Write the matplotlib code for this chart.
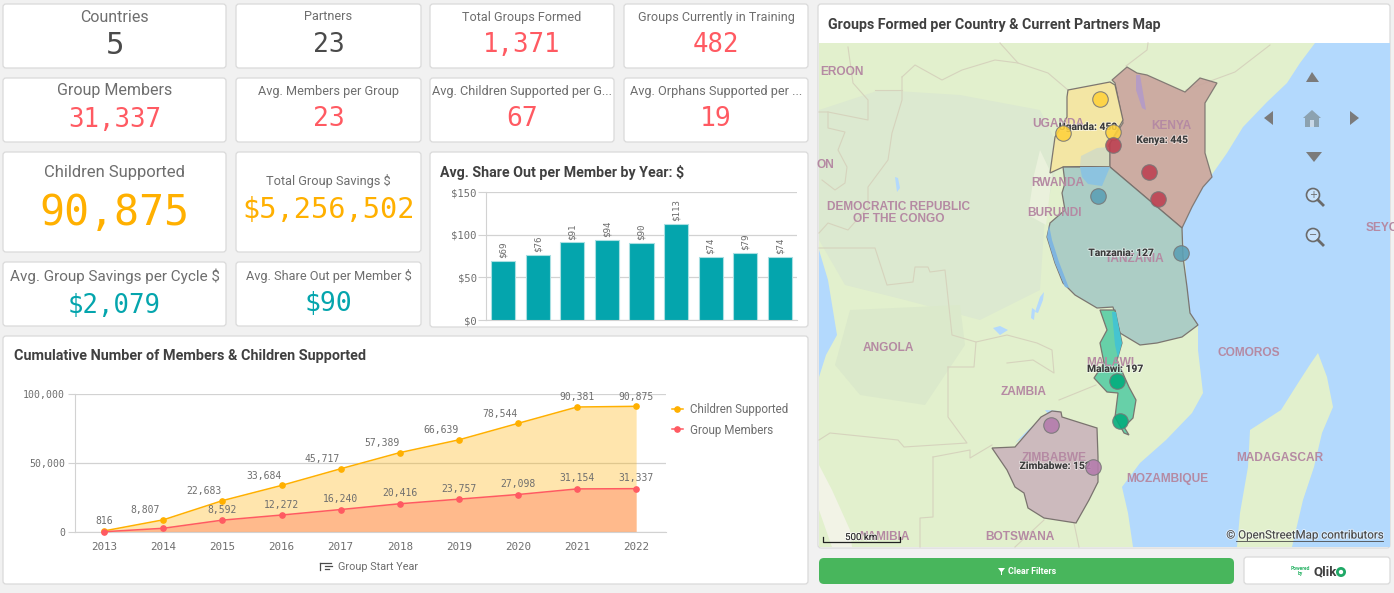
import matplotlib
matplotlib.use("Agg")
import matplotlib.pyplot as plt
import matplotlib.patheffects as pe
from matplotlib.patches import Circle, FancyBboxPatch, Polygon, Rectangle

W, H = 1394, 593
BG = "#f1f1f1"
GRID = "#d2d2d2"
GRAY = "#6e6e6e"
RED = "#ff5a62"
AMBER = "#ffb000"
TEAL = "#04a5ad"
DARK = "#4a4a4a"
SANS = "Roboto"
MONO = "DejaVu Sans Mono"

# KPI cards
kpi_titles = ["Countries", "Partners", "Total Groups Formed", "Groups Currently in Training",
              "Group Members", "Avg. Members per Group", "Avg. Children Supported per G...",
              "Avg. Orphans Supported per ...", "Children Supported", "Total Group Savings $",
              "Avg. Group Savings per Cycle $", "Avg. Share Out per Member $"]
kpi_values = ["5", "23", "1,371", "482", "31,337", "23", "67", "19", "90,875", "$5,256,502",
              "$2,079", "$90"]
kpi_colors = [DARK, DARK, RED, RED, RED, RED, RED, RED, AMBER, AMBER, TEAL, TEAL]

# bar chart
share_out = [69, 76, 91, 94, 90, 113, 74, 79, 74]

# line chart
years = [2013, 2014, 2015, 2016, 2017, 2018, 2019, 2020, 2021, 2022]
children = [816, 8807, 22683, 33684, 45717, 57389, 66639, 78544, 90381, 90875]
members = [200, 2700, 8592, 12272, 16240, 20416, 23757, 27098, 31154, 31337]

# map outlines and groups, in picture pixels
land_outline = [(819, 43), (1315, 43), (1300, 63), (1287, 83), (1267, 102), (1243, 127), (1227, 153),
                (1213, 173), (1203, 187), (1192, 207), (1182, 228), (1185, 260), (1187, 287), (1190, 313),
                (1198, 325), (1198, 350), (1203, 393), (1192, 413), (1166, 440), (1140, 463), (1122, 487),
                (1128, 513), (1133, 547), (819, 547), (819, 377), (826, 355), (837, 335), (828, 280), (819, 250)]
madagascar = [(1318, 353), (1327, 377), (1333, 407), (1322, 433), (1314, 467), (1303, 500), (1292, 547),
              (1237, 547), (1240, 513), (1248, 467), (1250, 430), (1281, 410), (1300, 380), (1311, 363)]
forest = [(819, 110), (880, 90), (960, 95), (1040, 110), (1060, 150), (1045, 215), (1040, 290), (980, 320),
          (905, 300), (845, 285), (819, 240)]
angola_patch = [(850, 310), (960, 305), (965, 345), (925, 405), (860, 395), (835, 365)]
desert = [(819, 465), (832, 490), (850, 530), (852, 547), (832, 547), (819, 510)]
rwanda_pale = [(1040, 150), (1052, 175), (1046, 225), (1028, 215), (1034, 175)]
kenya = [(1112, 80), (1127, 67), (1137, 73), (1147, 75), (1185, 92), (1200, 78), (1217, 83), (1205, 103),
         (1205, 153), (1212, 177), (1203, 187), (1192, 207), (1182, 228), (1110, 167), (1110, 143),
         (1123, 123), (1115, 83)]
uganda = [(1068, 90), (1110, 82), (1115, 85), (1123, 120), (1109, 145), (1109, 166), (1063, 167),
          (1050, 173), (1055, 137), (1067, 117), (1067, 97)]
tanzania = [(1063, 167), (1110, 167), (1182, 228), (1183, 257), (1187, 287), (1190, 313), (1198, 325),
            (1182, 337), (1157, 343), (1140, 345), (1120, 333), (1113, 307), (1097, 308), (1075, 295),
            (1063, 283), (1055, 263), (1047, 237), (1050, 223), (1065, 210), (1062, 193), (1065, 183)]
malawi = [(1100, 310), (1115, 310), (1122, 343), (1117, 360), (1129, 387), (1136, 400), (1133, 418),
          (1124, 427), (1129, 435), (1124, 433), (1115, 417), (1118, 393), (1107, 392), (1094, 378),
          (1104, 363), (1100, 343), (1107, 330)]
zimbabwe = [(1041, 417), (1052, 411), (1061, 412), (1062, 417), (1081, 423), (1097, 428), (1098, 457),
            (1098, 482), (1089, 500), (1076, 523), (1044, 518), (1028, 508), (1024, 493), (1015, 487),
            (1007, 470), (992, 448), (1015, 447), (1028, 432)]
victoria = [(1080, 167), (1110, 167), (1102, 186), (1088, 184), (1082, 177)]
victoria_north = [(1080, 166), (1081, 156), (1097, 148), (1109, 147), (1109, 166)]
tanganyika = [(1049, 225), (1047, 237), (1055, 263), (1065, 287), (1069, 288), (1059, 262), (1052, 240)]
malawi_lake = [(1112, 312), (1116, 312), (1122, 343), (1118, 358), (1115, 345)]
turkana = [(1136, 75), (1140, 75), (1146, 110), (1142, 108), (1136, 90)]
lakes_other = [[(1044, 292), (1040, 297), (1035, 312), (1038, 313), (1043, 300)],
               [(895, 177), (898, 178), (900, 188), (897, 192)],
               [(1015, 443), (1028, 430), (1040, 420), (1028, 434)],
               [(1032, 308), (1035, 310), (1034, 320), (1031, 318)],
               [(993, 328), (1000, 326), (1008, 330), (1000, 335)],
               [(1045, 410), (1060, 411), (1058, 414), (1048, 414)]]
borders = [[(902, 77), (915, 65), (942, 80), (962, 70), (995, 60), (1018, 63), (1048, 73), (1068, 90)],
           [(1000, 43), (1018, 63)],
           [(1126, 66), (1147, 50), (1148, 43)],
           [(1186, 90), (1235, 72), (1270, 45)],
           [(902, 77), (902, 100), (892, 133), (888, 160), (868, 187), (868, 207), (848, 230), (828, 223), (819, 233)],
           [(848, 47), (853, 83), (868, 100), (868, 120), (828, 112), (819, 112)],
           [(875, 90), (902, 90)],
           [(828, 112), (828, 128), (845, 132), (838, 150), (847, 167), (845, 183), (835, 190), (822, 180)],
           [(819, 248), (875, 248), (887, 285), (913, 282), (915, 267), (928, 267), (930, 272), (945, 270),
            (952, 335), (976, 342), (1007, 335), (1037, 343), (1052, 350), (1054, 373), (1033, 360), (1007, 363)],
           [(948, 367), (974, 367), (976, 342)],
           [(948, 367), (948, 417), (967, 443), (904, 447), (898, 440), (830, 433), (819, 440)],
           [(933, 457), (933, 517), (920, 518), (920, 547)],
           [(933, 457), (970, 450), (970, 458), (992, 445)],
           [(1059, 400), (1096, 385)],
           [(1074, 523), (1079, 547)],
           [(1044, 520), (1015, 547)]]

group_x = {"Uganda": [1100, 1063, 1113], "Kenya": [1113, 1149, 1158], "Tanzania": [1098, 1181],
           "Malawi": [1117, 1120], "Zimbabwe": [1051, 1093]}
group_y = {"Uganda": [99, 133, 132], "Kenya": [145, 172, 199], "Tanzania": [196, 253],
           "Malawi": [381, 421], "Zimbabwe": [425, 467]}
group_colors = {"Uganda": "#ffd23c", "Kenya": "#bd3f50", "Tanzania": "#5a9fb5",
                "Malawi": "#00ac7c", "Zimbabwe": "#b47bac"}

place_names = ["EROON", "ON", "DEMOCRATIC REPUBLIC\nOF THE CONGO", "UGANDA", "KENYA", "RWANDA", "BURUNDI",
               "TANZANIA", "SEYCHELLES", "ANGOLA", "ZAMBIA", "MALAWI", "COMOROS", "ZIMBABWE",
               "MOZAMBIQUE", "MADAGASCAR", "NAMIBIA", "BOTSWANA"]
place_x = [842, 825, 899, 1058, 1171, 1058, 1055, 1135, 1405, 888, 1024, 1110, 1249, 1054, 1167, 1280, 885, 1020]
place_y = [72, 165, 213, 124, 126, 183, 213, 259, 228, 348, 392, 363, 353, 458, 479, 458, 537, 537]

count_labels = ["Uganda: 450", "Kenya: 445", "Tanzania: 127", "Malawi: 197", "Zimbabwe: 152"]
count_x = [1088, 1162, 1121, 1115, 1055]
count_y = [127, 140, 253, 369, 466]


def px_axes(fig, left, top, right, bottom):
    return fig.add_axes([left / W, 1 - bottom / H, (right - left) / W, (bottom - top) / H])


def card(ax, left, top, right, bottom):
    ax.add_patch(FancyBboxPatch((left + 2, top + 2), right - left - 4, bottom - top - 4,
                                boxstyle="round,pad=2,rounding_size=3", fc="white", ec="#dadada", lw=0.9, zorder=1))


def draw_kpis(ax):
    boxes = [(3, 4, 226, 68), (236, 4, 421, 68), (430, 4, 614, 68), (624, 4, 808, 68),
             (3, 78, 226, 142), (236, 78, 421, 142), (430, 78, 614, 142), (624, 78, 808, 142),
             (3, 152, 226, 252), (236, 152, 421, 252), (3, 262, 226, 326), (236, 262, 421, 326)]
    title_sizes = [11.5, 9.2, 9.1, 9.1, 11.5, 9.2, 9.2, 9.2, 12, 9.2, 11, 9.2]
    value_sizes = [22, 19, 18.5, 18.5, 18.5, 19, 19, 19, 30, 20.6, 18.5, 19]
    title_y = [17, 17, 17, 17, 91, 91, 91, 91, 172, 181, 276, 276]
    value_y = [46, 45, 45, 45, 120, 119, 119, 119, 213, 210, 306, 304]
    for i, box in enumerate(boxes):
        card(ax, *box)
        cx = (box[0] + box[2]) / 2
        ax.text(cx, title_y[i], kpi_titles[i], ha="center", va="center", color=GRAY,
                fontsize=title_sizes[i], family=SANS, zorder=3)
        ax.text(cx, value_y[i], kpi_values[i], ha="center", va="center", color=kpi_colors[i],
                fontsize=value_sizes[i], family=MONO, zorder=3)


def draw_map(ax):
    ax.add_patch(Rectangle((819, 43), 571, 504, fc="#b3d9fd", ec="none", zorder=2))
    clip = Rectangle((819, 43), 571, 504, transform=ax.transData)

    def shape(points, color, alpha=1.0, edge="none", lw=0.0, z=3):
        p = Polygon(points, closed=True, fc=color, ec=edge, lw=lw, alpha=alpha, zorder=z)
        ax.add_patch(p)
        p.set_clip_path(clip)

    shape(land_outline, "#e2f0cd")
    shape(madagascar, "#e2f0cd")
    shape(forest, "#dce9d0")
    shape(angola_patch, "#dbe9cb")
    shape(desert, "#f2f3e6")
    shape(rwanda_pale, "#eaf1dc")
    for line in borders:
        ax.plot([p[0] for p in line], [p[1] for p in line], color="#d6d3bd", lw=0.8, zorder=3.5)
    for lake in lakes_other:
        shape(lake, "#b3d9fd", z=3.6)

    shape(kenya, "#c9a39c", 0.88, "#77706c", 0.9, 4)
    shape(uganda, "#f5e6a2", 0.95, "#77706c", 0.9, 4)
    shape(tanzania, "#a9ccc5", 0.95, "#77706c", 0.9, 4)
    shape(malawi, "#60cfa6", 0.95, "#77706c", 0.9, 4)
    shape(zimbabwe, "#ccb9bd", 0.97, "#77706c", 0.9, 4)
    shape(victoria, "#8cc3e0", z=4.2)
    shape(victoria_north, "#d6dcc0", z=4.2)
    shape(tanganyika, "#7fb5e0", z=4.2)
    shape(malawi_lake, "#45c4d0", z=4.2)
    shape(turkana, "#b59cc4", z=4.2)

    for name, x, y in zip(place_names, place_x, place_y):
        t = ax.text(x, y, name, ha="center", va="center", color="#b58aa3", fontsize=8.6, weight="bold",
                    family="Liberation Sans", linespacing=1.05, zorder=5)
        t.set_clip_path(clip)

    for name, x, y in zip(count_labels, count_x, count_y):
        ax.text(x, y, name, ha="center", va="center", color="#3a3a3a", fontsize=7.4, weight="bold",
                family=SANS, zorder=6,
                path_effects=[pe.withStroke(linewidth=1.4, foreground=(1, 1, 1, 0.55))])

    for name in group_x:
        ax.scatter(group_x[name], group_y[name], s=125, color=group_colors[name], alpha=0.88,
                   edgecolors="#777777", linewidths=0.8, zorder=7)

    # scale bar and attribution
    ax.plot([823, 823, 900, 900], [537, 542, 542, 537], color="#222222", lw=0.9, zorder=8)
    ax.text(861, 537, "500 km", ha="center", va="center", fontsize=7, color="#222222", family=SANS, zorder=8,
            path_effects=[pe.withStroke(linewidth=1.4, foreground=(1, 1, 1, 0.6))])
    ax.text(1383, 535, "© OpenStreetMap contributors", ha="right", va="center", fontsize=8.3, color="#4a4a4a",
            family=SANS, zorder=8, path_effects=[pe.withStroke(linewidth=1.5, foreground=(1, 1, 1, 0.5))])
    ax.plot([1236, 1383], [541, 541], color="#4a4a4a", lw=0.6, zorder=8)

    # navigation buttons
    arrows = [[(1306, 82), (1312, 72), (1319, 82)], [(1306, 152), (1322, 152), (1314, 162)],
              [(1264, 118), (1273, 111), (1273, 125)], [(1350, 111), (1350, 125), (1359, 118)]]
    for tri in arrows:
        ax.add_patch(Polygon(tri, fc="#7b7b7b", ec="none", zorder=8))
    ax.add_patch(Polygon([(1303, 118), (1312, 110), (1321, 118), (1319, 118), (1319, 127), (1305, 127), (1305, 118)],
                         fc="#8ca2b0", ec="none", zorder=8))
    ax.add_patch(Rectangle((1310, 120), 4, 7, fc="#c8d8e8", ec="none", zorder=9))
    for cy, sign in [(195, "+"), (235, "−")]:
        ax.add_patch(Circle((1313, cy), 6.5, fc=(1, 1, 1, 0.3), ec="#6a6a6a", lw=1.2, zorder=8))
        ax.plot([1318, 1323], [cy + 5, cy + 10], color="#6a6a6a", lw=2, zorder=8)
        ax.text(1313, cy, sign, ha="center", va="center", fontsize=7, color="#6a6a6a", zorder=9)


def draw_bars(fig):
    ax = px_axes(fig, 486, 192, 797, 320)
    ax.patch.set_alpha(0)
    x = range(len(share_out))
    ax.bar(x, share_out, width=0.7, color=TEAL, edgecolor="#a9dfe2", linewidth=0.8, zorder=3)
    for i, v in enumerate(share_out):
        ax.annotate(f"${v}", (i, v), xytext=(0, 2), textcoords="offset points", rotation=90, ha="center",
                    va="bottom", fontsize=6.6, color=GRAY, family=MONO, zorder=4)
    ax.set_xlim(-0.5, 8.5)
    ax.set_ylim(0, 150)
    ax.set_yticks([0, 50, 100, 150], ["$0", "$50", "$100", "$150"])
    ax.set_xticks([])
    ax.grid(axis="y", color=GRID, lw=0.9, zorder=0)
    for s in ["top", "right"]:
        ax.spines[s].set_visible(False)
    ax.spines["left"].set_color(GRID)
    ax.spines["bottom"].set_color(GRID)
    ax.tick_params(axis="y", length=5.5, color=GRID, labelsize=7.6, labelcolor=GRAY, pad=1)
    for t in ax.get_yticklabels():
        t.set_family(MONO)


def draw_lines(fig):
    ax = px_axes(fig, 74.7, 393.7, 665.7, 532)
    ax.patch.set_alpha(0)
    ax.fill_between(years, children, color="#ffb000", alpha=0.32, lw=0, zorder=2)
    ax.fill_between(years, members, color="#ff6a50", alpha=0.35, lw=0, zorder=2.5)
    ax.plot(years, children, color=AMBER, lw=1.1, marker="o", ms=3.8, label="Children Supported", zorder=4,
            clip_on=False)
    ax.plot(years, members, color=RED, lw=1.1, marker="o", ms=3.8, label="Group Members", zorder=4, clip_on=False)
    for i, v in enumerate(children):
        dx = 0 if i in (0, 8, 9) else -13
        ax.annotate(f"{v:,}", (years[i], v), xytext=(dx, 7), textcoords="offset points", ha="center",
                    va="center", fontsize=7, color=GRAY, family=MONO, zorder=5, annotation_clip=False)
    for i, v in enumerate(members):
        if i < 2:
            continue
        ax.annotate(f"{v:,}", (years[i], v), xytext=(0, 7.5), textcoords="offset points", ha="center",
                    va="center", fontsize=7, color=GRAY, family=MONO, zorder=5)
    ax.set_xlim(2012.5, 2022.5)
    ax.set_ylim(0, 100000)
    ax.set_xticks(years, [str(y) for y in years])
    ax.set_yticks([0, 50000, 100000], ["0", "50,000", "100,000"])
    ax.grid(axis="y", color=GRID, lw=0.9, zorder=0)
    for s in ["top", "right"]:
        ax.spines[s].set_visible(False)
    ax.spines["left"].set_color(GRID)
    ax.spines["bottom"].set_color(GRID)
    ax.tick_params(axis="y", length=5, color=GRID, labelsize=7.1, labelcolor=GRAY, pad=2)
    ax.tick_params(axis="x", length=0, labelsize=7.8, labelcolor=GRAY, pad=7)
    for t in ax.get_xticklabels() + ax.get_yticklabels():
        t.set_family(MONO)
    ax.legend(loc="upper left", bbox_to_anchor=(1.0, 0.975), frameon=False, labelcolor=GRAY,
              handlelength=0.95, handletextpad=0.6, labelspacing=0.65, borderaxespad=0.1,
              prop={"family": SANS, "size": 8.4})


def main():
    fig = plt.figure(figsize=(W / 100, H / 100), dpi=100, facecolor=BG)
    canvas = fig.add_axes([0, 0, 1, 1])
    canvas.set_xlim(0, W)
    canvas.set_ylim(H, 0)
    canvas.axis("off")

    draw_kpis(canvas)

    card(canvas, 430, 152, 808, 327)
    canvas.text(440, 172, "Avg. Share Out per Member by Year: $", va="center", color="#404040", fontsize=10.2,
                weight="bold", family=SANS, zorder=3)

    card(canvas, 3, 336, 808, 584)
    canvas.text(14, 356, "Cumulative Number of Members & Children Supported", va="center", color="#404040",
                fontsize=10.4, weight="bold", family=SANS, zorder=3)
    canvas.text(338, 567, "Group Start Year", va="center", color=GRAY, fontsize=7.8, family=SANS, zorder=3)
    for k, width in enumerate([11, 7, 4]):
        canvas.plot([320 if k == 0 else 325, 320 + width + (5 if k else 0)], [563 + 3 * k, 563 + 3 * k],
                    color=DARK, lw=0.9, zorder=3)
    canvas.plot([320, 320], [563, 570], color=DARK, lw=0.9, zorder=3)

    card(canvas, 818, 4, 1390, 548)
    canvas.text(828, 24.5, "Groups Formed per Country & Current Partners Map", va="center", color="#404040",
                fontsize=10.3, weight="bold", family=SANS, zorder=3)
    draw_map(canvas)

    # footer buttons
    canvas.add_patch(FancyBboxPatch((823, 562), 407, 18, boxstyle="round,pad=4,rounding_size=5", fc="#48b65c",
                                    ec="none", zorder=3))
    canvas.text(1032, 571, "Clear Filters", ha="center", va="center", color="white", fontsize=6.4, weight="bold",
                family=SANS, zorder=4)
    canvas.add_patch(Polygon([(998, 568), (1005, 568), (1002, 572), (1002, 575), (1001, 575), (1001, 572)],
                             fc="white", ec="none", zorder=4))
    card(canvas, 1244, 557, 1390, 584)
    canvas.text(1300, 571, "Powered\nby", ha="center", va="center", color="#2fb56a", fontsize=3.6, weight="bold",
                family=SANS, linespacing=1.0, zorder=4)
    canvas.text(1313, 572, "Qlik", va="center", color="#404040", fontsize=9.5, weight="bold", family=SANS, zorder=4)
    canvas.add_patch(Circle((1341, 572), 3.6, fc="none", ec="#1fa866", lw=2, zorder=4))

    draw_bars(fig)
    draw_lines(fig)

    fig.savefig("out.png", dpi=100, facecolor=BG)
    plt.close(fig)


if __name__ == "__main__":
    main()
